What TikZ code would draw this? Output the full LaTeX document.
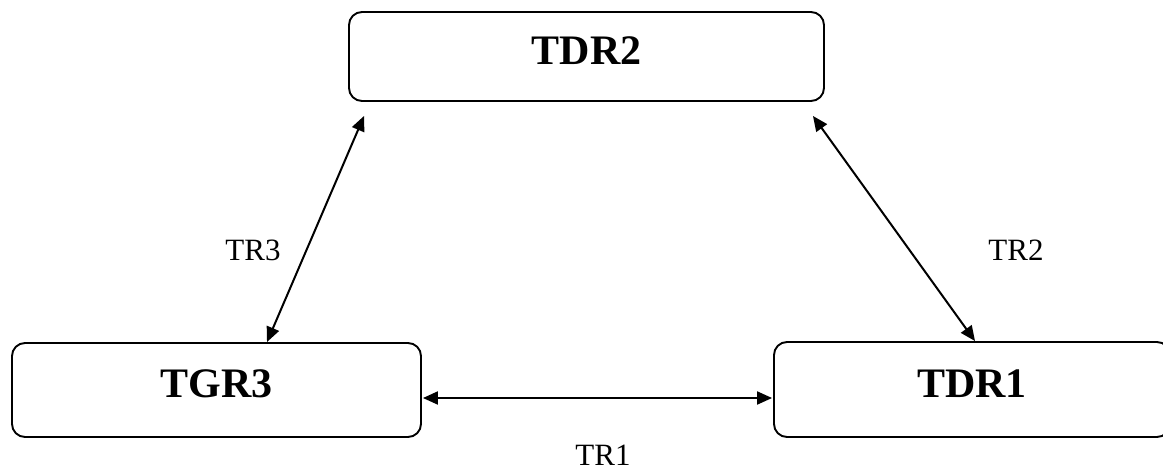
\documentclass[tikz,border=0pt]{standalone}
\usepackage{fontspec}
\setmainfont{Liberation Serif}
\usetikzlibrary{arrows.meta,calc}
\begin{document}
\begin{tikzpicture}[x=1pt,y=-1pt,
 box/.style={draw, line width=1.9pt, rounded corners=13pt,
   font=\fontsize{42}{42}\selectfont\bfseries, text height=28pt, text depth=13pt, inner sep=0pt},
 lab/.style={font=\fontsize{31}{31}\selectfont, inner sep=0pt},
 link/.style={line width=2pt, {Triangle[length=15pt,width=13pt]}-{Triangle[length=15pt,width=13pt]}}]
\useasboundingbox (0,0) rectangle (1163,471);
\clip (0,0) rectangle (1163,471);
\node[box, minimum width=475pt, minimum height=89pt] (tdr2) at (586.5,56.5) {TDR2};
\node[box, minimum width=409pt, minimum height=94pt] (tgr3) at (216.5,390) {TGR3};
\node[box, minimum width=396pt, minimum height=95pt] (tdr1) at (972,389.5) {TDR1};
\coordinate (a3) at ($(tdr2.south west)+(16,14)$);
\coordinate (b3) at ($(tgr3.north)+(50.5,0)$);
\coordinate (a2) at ($(tdr2.south east)+(-12,14)$);
\coordinate (b2) at ($(tdr1.north)+(3,0)$);
\coordinate (a1) at ($(tgr3.east)+(1,8)$);
\coordinate (b1) at ($(tdr1.west)+(-1,8.5)$);
\draw[link] (a3) -- (b3);
\draw[link] (a2) -- (b2);
\draw[link] (a1) -- (b1);
\node[lab] (tr3) at (253,250) {TR3};
\node[lab] (tr2) at (1016,250) {TR2};
\node[lab] (tr1) at (603,455) {TR1};
\end{tikzpicture}
\end{document}
